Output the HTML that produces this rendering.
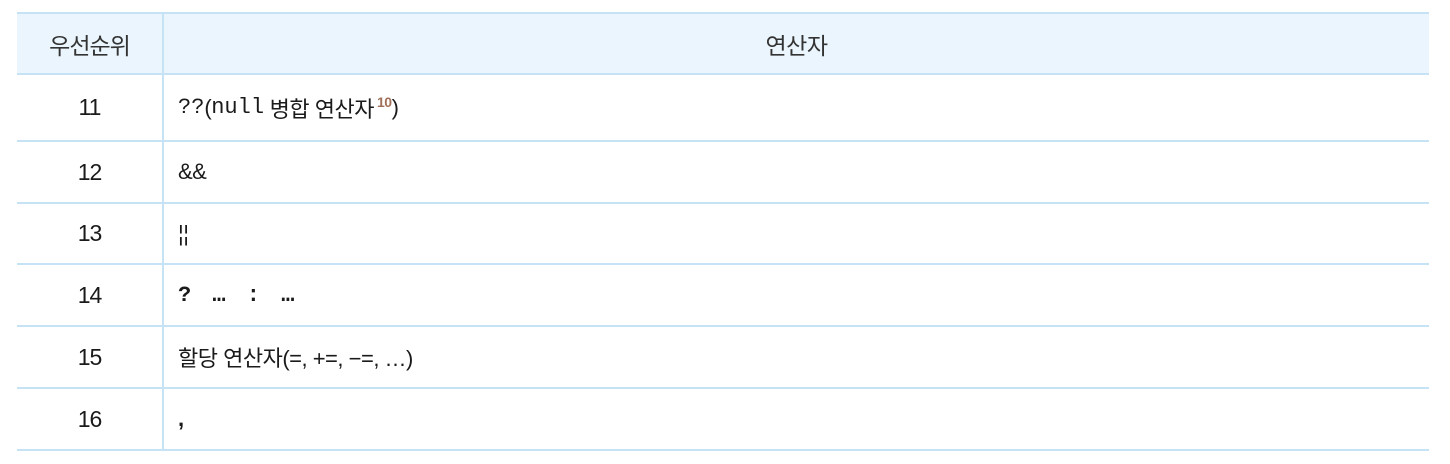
<!DOCTYPE html>
<html><head><meta charset="utf-8"><style>
body{margin:0;width:1450px;height:464px;background:#fff;position:relative;overflow:hidden;font-family:"Liberation Sans","Noto Sans CJK KR",sans-serif;color:#1a1a1a}
.t{position:absolute;left:17px;top:12px;width:1412px}
.row{position:relative;height:61px;border-bottom:2px solid #c6e3f6;box-sizing:border-box}
.hd{background:#eaf5fd;border-top:2px solid #c6e3f6;height:63px}
.c1{position:absolute;left:0;top:0;bottom:0;width:145px;border-right:2px solid #c6e3f6;display:flex;align-items:center;justify-content:center;font-size:23px;letter-spacing:-1px}
.c2{position:absolute;left:161px;top:0;bottom:0;right:0;display:flex;align-items:center;font-size:22px;letter-spacing:-0.5px}
.hd .c2{left:147px;justify-content:center}
.hd div{color:#333;font-size:23px}
.mono{font-family:"Liberation Mono","Noto Sans CJK KR",monospace;letter-spacing:0}
sup{color:#a0705a;font-size:14px;font-weight:bold;position:relative;top:-6px;margin-left:3px}
</style></head><body>
<div class="t">
<div class="row hd"><div class="c1">우선순위</div><div class="c2">연산자</div></div>
<div class="row" style="height:67px"><div class="c1">11</div><div class="c2"><span class="mono">??</span>(<span class="mono">null</span>&nbsp;병합 연산자<sup>10</sup>)</div></div>
<div class="row" style="height:62px"><div class="c1">12</div><div class="c2">&amp;&amp;</div></div>
<div class="row" style="height:61px"><div class="c1">13</div><div class="c2">¦¦</div></div>
<div class="row" style="height:62px"><div class="c1">14</div><div class="c2 mono" style="font-weight:bold;letter-spacing:4px">?&nbsp;…&nbsp;:&nbsp;…</div></div>
<div class="row" style="height:62px"><div class="c1">15</div><div class="c2">할당 연산자(=, +=, −=, …)</div></div>
<div class="row" style="height:62px"><div class="c1">16</div><div class="c2" style="font-weight:bold">,</div></div>
</div>
</body></html>
